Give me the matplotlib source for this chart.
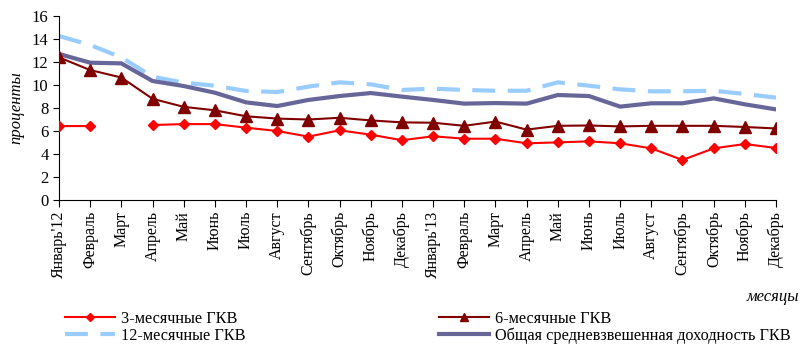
import numpy as np
import matplotlib.pyplot as plt
from matplotlib.lines import Line2D

plt.rcParams["font.family"] = ["Liberation Serif", "DejaVu Serif"]

months = ["Январь'12", "Февраль", "Март", "Апрель", "Май", "Июнь", "Июль",
          "Август", "Сентябрь", "Октябрь", "Ноябрь", "Декабрь",
          "Январь'13", "Февраль", "Март", "Апрель", "Май", "Июнь", "Июль",
          "Август", "Сентябрь", "Октябрь", "Ноябрь", "Декабрь"]

# yields, % (no 3-month auction in March 2012)
gkv_3m = [6.43, 6.43, np.nan, 6.52, 6.6, 6.6, 6.29, 6.0, 5.51, 6.06, 5.68, 5.2,
          5.54, 5.33, 5.33, 4.93, 5.01, 5.1, 4.93, 4.49, 3.48, 4.49, 4.87, 4.52]
gkv_6m = [12.4, 11.3, 10.65, 8.8, 8.1, 7.8, 7.28, 7.08, 7.0, 7.15, 6.92, 6.75,
          6.72, 6.45, 6.82, 6.12, 6.45, 6.48, 6.4, 6.45, 6.45, 6.45, 6.35, 6.22]
gkv_12m = [14.26, 13.48, 12.4, 10.72, 10.2, 9.94, 9.48, 9.39, 9.86, 10.23, 10.06, 9.57,
           9.68, 9.57, 9.5, 9.5, 10.23, 9.94, 9.62, 9.45, 9.45, 9.5, 9.22, 8.9]
gkv_avg = [12.7, 11.94, 11.88, 10.35, 9.91, 9.33, 8.49, 8.17, 8.7, 9.04, 9.3, 8.99,
           8.7, 8.38, 8.43, 8.38, 9.13, 9.04, 8.12, 8.41, 8.41, 8.84, 8.32, 7.88]

x = np.arange(len(months))

fig = plt.figure(figsize=(8.02, 3.45), dpi=100)
ax = fig.add_axes([59 / 802, 1 - 200 / 345, (776 - 59) / 802, 184 / 345])

l12, = ax.plot(x, gkv_12m, color="#99CCFF", lw=3, dashes=(5.5, 3), zorder=2)
lavg, = ax.plot(x, gkv_avg, color="#666699", lw=3, zorder=2)
l6, = ax.plot(x, gkv_6m, color="#800000", lw=1.5, marker="^", ms=8, zorder=3)
l3, = ax.plot(x, gkv_3m, color="#FF0000", lw=1.5, marker="D", ms=5, zorder=4)

ax.set_xlim(0, len(months) - 1)
ax.set_ylim(0, 16)
ax.set_yticks(range(0, 17, 2))
ax.set_xticks(x)
ax.set_xticklabels(months, rotation=90, fontsize=11.5)
ax.tick_params(axis="y", labelsize=12, direction="out", length=4)
ax.tick_params(axis="x", direction="out", length=5, pad=3)
for s in ("top", "right"):
    ax.spines[s].set_visible(False)
ax.set_ylabel("проценты", fontsize=12, style="italic", labelpad=5)

fig.text(799 / 802, 1 - 297 / 345, "месяцы", fontsize=12, style="italic",
         ha="right", va="center")

h3 = Line2D([], [], color="#FF0000", lw=1.5, marker="D", ms=4.5)
h6 = Line2D([], [], color="#800000", lw=1.5, marker="^", ms=6)
fig.legend([h3, l12, h6, lavg],
           ["3-месячные ГКВ", "12-месячные ГКВ", "6-месячные ГКВ",
            "Общая средневзвешенная доходность ГКВ"],
           ncol=2, loc="lower left", bbox_to_anchor=(65 / 802, 1 / 345),
           frameon=False, fontsize=11.7, handlelength=3.1, handletextpad=0.35,
           columnspacing=11.9, labelspacing=0.05, borderpad=0, borderaxespad=0)

fig.savefig("out.png", dpi=100)
